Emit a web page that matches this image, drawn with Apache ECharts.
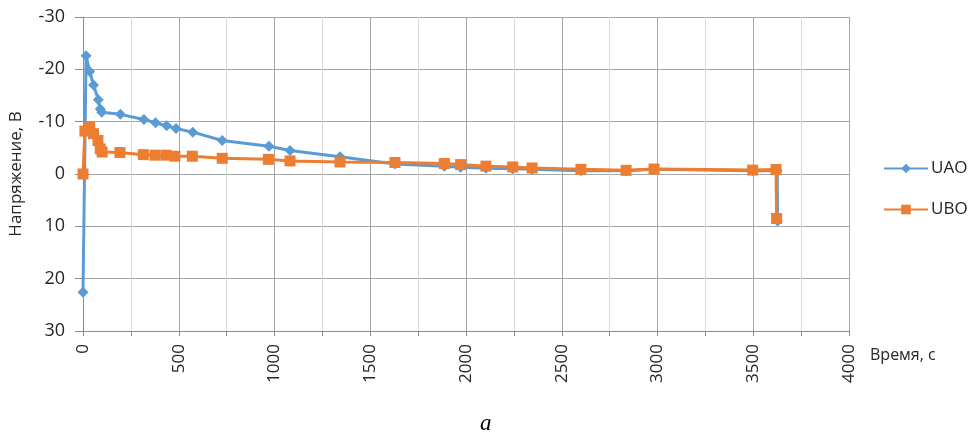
<!DOCTYPE html>
<html>
<head>
<meta charset="utf-8">
<script src="https://cdn.jsdelivr.net/npm/echarts@6/dist/echarts.min.js"></script>
<style>
  html, body { margin: 0; padding: 0; background: #ffffff; }
  #chart { width: 974px; height: 439px; }
</style>
</head>
<body>
<div id="chart"></div>
<script>
// Voltage readings over time for the two measured channels
const uaoTime = [0, 16, 35, 55, 80, 90, 98, 195, 318, 379, 437, 486, 573, 727, 971, 1081, 1342, 1629, 1887, 1972, 2104, 2244, 2345, 2600, 2836, 2982, 3497, 3625, 3627];
const uaoVoltage = [22.6, -22.6, -19.6, -17.0, -14.2, -12.4, -11.8, -11.4, -10.4, -9.8, -9.2, -8.7, -8.0, -6.4, -5.3, -4.5, -3.3, -1.9, -1.5, -1.3, -1.1, -1.0, -0.9, -0.6, -0.6, -0.9, -0.6, -0.6, 9.0];

const uboTime = [0, 10, 35, 55, 78, 90, 100, 193, 315, 376, 433, 480, 571, 727, 968, 1081, 1342, 1629, 1887, 1972, 2104, 2244, 2345, 2600, 2836, 2982, 3497, 3619, 3622];
const uboVoltage = [0, -8.2, -9.0, -7.7, -6.4, -4.8, -4.2, -4.1, -3.7, -3.6, -3.6, -3.4, -3.4, -3.0, -2.8, -2.5, -2.3, -2.2, -2.0, -1.8, -1.5, -1.35, -1.15, -0.9, -0.7, -0.95, -0.75, -0.85, 8.5];

const seriesNames = ['UAO', 'UBO'];
const xTitle = 'Время, с';
const yTitle = 'Напряжение, В';
const caption = 'а';

const pairs = (xs, ys) => xs.map((x, i) => [x, ys[i]]);

const font = '"Open Sans", Lato, sans-serif';
const textColor = '#262626';

const chart = echarts.init(document.getElementById('chart'), null, { renderer: 'canvas' });

chart.setOption({
  animation: false,
  backgroundColor: '#ffffff',
  grid: { left: 83, right: 125, top: 17, bottom: 108, containLabel: false },
  legend: {
    orient: 'vertical',
    left: 878,
    top: 155,
    itemWidth: 44,
    itemHeight: 12,
    itemGap: 24,
    data: seriesNames,
    textStyle: { fontFamily: font, fontSize: 17, color: textColor, padding: [0, 0, 0, -2] }
  },
  xAxis: {
    type: 'value',
    min: 0,
    max: 4000,
    interval: 500,
    name: xTitle,
    nameLocation: 'end',
    nameGap: 21,
    nameTextStyle: { fontFamily: font, fontSize: 16, color: textColor, verticalAlign: 'top', padding: [16, 0, 0, 0] },
    axisLine: { show: true, onZero: false, lineStyle: { color: '#8c8c8c', width: 1 } },
    axisTick: { show: true, length: 5, lineStyle: { color: '#8c8c8c' } },
    minorTick: { show: true, splitNumber: 2, length: 5, lineStyle: { color: '#8c8c8c' } },
    axisLabel: {
      rotate: 90, margin: 13, fontFamily: font, fontSize: 17, color: textColor,
      formatter: v => String(v)
    },
    splitLine: { show: true, lineStyle: { color: '#a6a6a6', width: 1 } },
    minorSplitLine: { show: true, lineStyle: { color: '#d9d9d9', width: 1 } }
  },
  yAxis: {
    type: 'value',
    inverse: true,
    min: -30,
    max: 30,
    interval: 10,
    name: yTitle,
    nameLocation: 'middle',
    nameGap: 58,
    nameTextStyle: { fontFamily: font, fontSize: 17, color: textColor },
    axisLine: { show: true, onZero: false, lineStyle: { color: '#8c8c8c', width: 1 } },
    axisTick: { show: true, length: 8, lineStyle: { color: '#8c8c8c' } },
    axisLabel: { margin: 18, fontFamily: font, fontSize: 18, color: textColor, formatter: v => String(v) },
    splitLine: { show: true, lineStyle: { color: '#a6a6a6', width: 1 } }
  },
  series: [
    {
      name: seriesNames[0],
      type: 'line',
      data: pairs(uaoTime, uaoVoltage),
      symbol: 'diamond',
      symbolSize: 11,
      color: '#5b9bd5',
      lineStyle: { width: 3, color: '#5b9bd5' },
      itemStyle: { color: '#5b9bd5' },
      z: 2
    },
    {
      name: seriesNames[1],
      type: 'line',
      data: pairs(uboTime, uboVoltage),
      symbol: 'rect',
      symbolSize: 11,
      color: '#ed7d31',
      lineStyle: { width: 3, color: '#ed7d31' },
      itemStyle: { color: '#ed7d31' },
      z: 3
    }
  ],
  graphic: [
    {
      type: 'text',
      left: 480,
      top: 412,
      style: {
        text: caption,
        font: 'italic 23px "Liberation Serif", "DejaVu Serif", serif',
        fill: '#000000'
      }
    }
  ]
});
</script>
</body>
</html>
